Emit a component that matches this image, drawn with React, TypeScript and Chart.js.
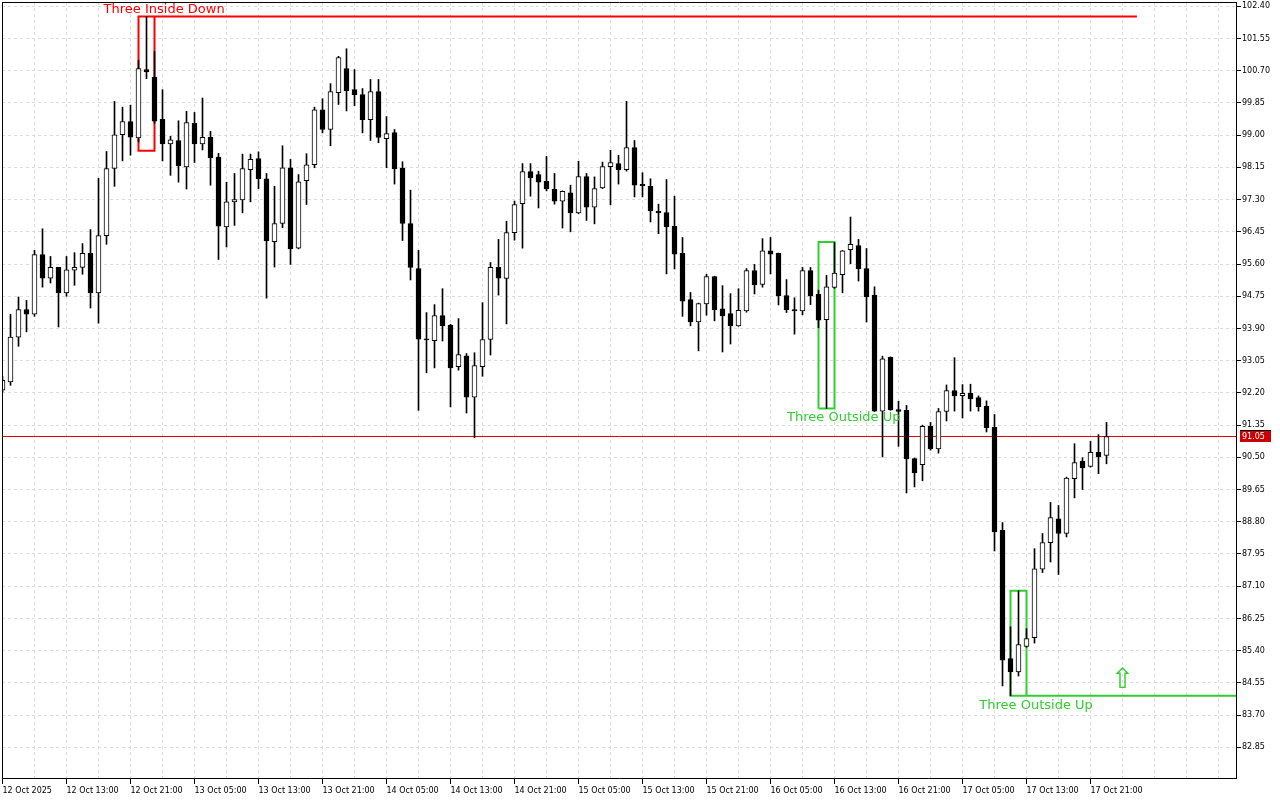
import React, { useEffect, useRef } from 'react';
import { Chart, registerables } from 'chart.js';

Chart.register(...registerables);

// ---- Candle data (hourly bars, 12 Oct 05:00 → 17 Oct 23:00) ----
const opens = [
  92.27, 92.49, 93.67, 94.40, 94.28, 95.85, 95.23, 95.51, 94.84, 95.44,
  95.51, 95.88, 94.84, 96.35, 98.12, 99.01, 99.36, 98.93, 100.73, 100.53,
  99.42, 98.77, 98.86, 98.16, 99.31, 98.77, 98.94, 98.42, 96.58, 97.24,
  97.29, 98.09, 98.38, 97.85, 96.19, 96.67, 98.14, 96.02, 97.80, 98.22,
  99.67, 99.15, 100.12, 100.76, 100.20, 100.07, 99.41, 100.15, 98.91, 99.07,
  98.13, 96.67, 95.48, 93.63, 93.58, 94.24, 93.98, 92.89, 93.18, 92.09,
  92.89, 93.61, 95.51, 95.22, 96.43, 97.19, 98.04, 97.96, 97.78, 97.57,
  97.26, 97.48, 96.95, 97.91, 97.10, 97.61, 98.17, 98.25, 98.09, 98.67,
  97.70, 97.65, 96.99, 96.96, 96.60, 95.88, 94.66, 94.07, 94.55, 95.27,
  94.42, 94.29, 93.97, 94.36, 95.43, 95.06, 95.95, 95.88, 94.77, 94.40,
  94.36, 95.43, 94.80, 94.13, 94.98, 95.32, 95.98, 96.09, 95.48, 94.78,
  91.72, 93.14, 91.76, 91.74, 90.47, 90.31, 91.32, 90.72, 91.71, 92.26,
  92.13, 92.19, 92.08, 91.85, 91.29, 88.58, 85.19, 84.84, 85.51, 85.74,
  87.55, 88.25, 88.88, 88.49, 89.94, 90.40, 90.26, 90.63, 90.55,
];
const highs = [
  92.64, 94.27, 94.73, 94.64, 95.96, 96.53, 95.80, 95.51, 95.80, 95.90,
  96.14, 96.51, 97.86, 98.57, 99.89, 99.74, 99.79, 100.98, 102.13, 101.21,
  100.20, 98.97, 99.38, 99.63, 99.60, 99.98, 99.10, 98.52, 97.76, 97.99,
  98.50, 98.50, 98.56, 97.99, 97.65, 98.72, 98.36, 97.96, 98.51, 99.74,
  99.96, 100.36, 101.08, 101.28, 100.73, 100.23, 100.47, 100.47, 99.49, 99.15,
  98.30, 97.55, 95.96, 94.32, 94.53, 94.95, 94.01, 94.16, 93.24, 93.26,
  94.58, 95.64, 96.25, 96.73, 97.26, 98.25, 98.25, 98.05, 98.44, 97.99,
  97.53, 97.68, 98.31, 97.99, 97.90, 98.29, 98.60, 98.47, 99.89, 98.86,
  98.01, 97.85, 97.18, 97.83, 97.39, 96.30, 94.85, 94.57, 95.33, 95.28,
  95.03, 94.82, 94.95, 95.48, 95.59, 96.27, 96.30, 95.89, 95.19, 94.71,
  95.51, 95.51, 94.91, 95.30, 96.17, 95.96, 96.84, 96.25, 96.01, 95.00,
  93.17, 93.15, 91.98, 91.87, 90.48, 91.35, 91.42, 91.79, 92.41, 93.13,
  92.42, 92.43, 92.12, 91.99, 91.63, 88.78, 86.03, 86.98, 85.98, 88.09,
  88.49, 89.31, 89.23, 89.98, 90.86, 90.49, 90.92, 91.10, 91.42,
];
const lows = [
  92.22, 92.40, 93.43, 93.81, 94.22, 94.99, 95.10, 93.94, 94.75, 95.04,
  95.33, 94.44, 94.04, 96.12, 97.65, 98.32, 98.47, 98.82, 100.49, 99.31,
  98.32, 97.94, 97.76, 97.58, 98.28, 98.61, 97.68, 95.72, 96.05, 96.62,
  96.95, 97.24, 97.59, 94.70, 95.52, 96.56, 95.59, 96.00, 97.17, 98.14,
  99.06, 98.72, 99.81, 99.64, 99.78, 99.06, 98.86, 98.80, 98.14, 97.71,
  96.22, 95.18, 91.74, 92.73, 92.86, 93.57, 91.83, 92.80, 91.67, 91.02,
  92.64, 93.20, 94.78, 94.02, 96.23, 96.02, 97.39, 97.08, 97.53, 97.18,
  96.55, 96.45, 96.93, 96.75, 96.66, 97.59, 97.16, 97.71, 98.05, 97.37,
  97.37, 96.71, 96.40, 95.34, 95.47, 94.22, 93.97, 93.31, 94.25, 94.10,
  93.28, 93.49, 93.96, 94.33, 94.81, 94.99, 95.34, 94.52, 94.32, 93.75,
  94.26, 94.53, 93.92, 91.79, 94.96, 94.84, 95.61, 95.15, 94.07, 91.71,
  90.51, 91.74, 90.79, 89.56, 89.72, 89.88, 90.69, 90.61, 91.46, 91.72,
  91.54, 91.72, 91.72, 91.17, 88.03, 84.47, 84.21, 84.73, 85.49, 85.60,
  87.46, 87.74, 87.41, 88.40, 89.43, 89.65, 90.24, 90.07, 90.33,
];
const closes = [
  92.53, 93.67, 94.40, 94.28, 95.85, 95.23, 95.51, 94.84, 95.45, 95.51,
  95.88, 94.84, 96.35, 98.12, 99.01, 99.36, 98.95, 100.76, 100.67, 99.37,
  98.77, 98.88, 98.19, 99.33, 98.77, 98.94, 98.40, 96.60, 97.24, 97.30,
  98.12, 98.36, 97.85, 96.21, 96.67, 98.14, 96.00, 97.77, 98.22, 99.67,
  99.15, 100.15, 101.05, 100.17, 100.07, 99.41, 100.15, 98.94, 99.04, 98.11,
  96.67, 95.51, 93.62, 93.60, 94.24, 93.97, 92.86, 93.21, 92.09, 92.92,
  93.61, 95.51, 95.23, 96.43, 97.17, 98.04, 97.87, 97.76, 97.58, 97.26,
  97.52, 96.95, 97.91, 97.10, 97.59, 98.17, 98.28, 98.08, 98.67, 97.68,
  97.66, 97.00, 96.95, 96.58, 95.86, 94.62, 94.07, 94.56, 95.27, 94.39,
  94.23, 93.97, 94.38, 95.43, 95.05, 95.95, 95.86, 94.76, 94.39, 94.36,
  95.43, 94.76, 94.12, 95.00, 95.36, 95.95, 96.12, 95.47, 94.73, 91.72,
  93.10, 91.75, 91.71, 90.46, 90.09, 91.32, 90.72, 91.71, 92.26, 92.12,
  92.19, 92.04, 91.83, 91.28, 88.53, 85.15, 84.84, 85.56, 85.72, 87.56,
  88.25, 88.91, 88.49, 89.95, 90.36, 90.22, 90.63, 90.51, 91.05,
];

// ---- Axis ticks ----
const timeLabels = [
  '12 Oct 2025', '12 Oct 13:00', '12 Oct 21:00', '13 Oct 05:00', '13 Oct 13:00',
  '13 Oct 21:00', '14 Oct 05:00', '14 Oct 13:00', '14 Oct 21:00', '15 Oct 05:00',
  '15 Oct 13:00', '15 Oct 21:00', '16 Oct 05:00', '16 Oct 13:00', '16 Oct 21:00',
  '17 Oct 05:00', '17 Oct 13:00', '17 Oct 21:00',
];
const priceTicks = [
  82.85, 83.70, 84.55, 85.40, 86.25, 87.10, 87.95, 88.80, 89.65, 90.50, 91.35, 92.20,
  93.05, 93.90, 94.75, 95.60, 96.45, 97.30, 98.15, 99.00, 99.85, 100.70, 101.55, 102.40,
];
const currentPrice = 91.05;

// ---- Pattern annotations (bar index, price) ----
const insideDownX = [141.8, 17, 17, 19, 19];
const insideDownY = [102.13, 102.13, 98.59, 98.59, 102.13];
const outsideUp1X = [102, 102, 104, 104, 102];
const outsideUp1Y = [91.79, 96.18, 96.18, 91.79, 91.79];
const outsideUp2X = [154.4, 126, 126, 128, 128];
const outsideUp2Y = [84.21, 84.21, 86.98, 86.98, 84.21];
const patternLabels = ['Three Inside Down', 'Three Outside Up', 'Three Outside Up'];
const patternLabelX = [20.2, 105.16, 129.2];
const patternLabelY = [102.21, 91.45, 83.87];
const arrowX = [140];
const arrowY = [84.6];

const RED = '#ff0000';
const GREEN = 'rgb(50,205,50)';
const GRID = '#dcdcdc';
const FONT = 'DejaVu Sans';

const X_MIN = -0.0625;
const X_MAX = 154.3125;
const Y_MIN = 82.0137;
const Y_MAX = 102.5134;

const gridBars = Array.from({ length: 39 }, (_, k) => k * 4);

const overlayPlugin = {
  id: 'overlay',
  afterDatasetsDraw(chart: any) {
    const { ctx, scales } = chart;
    const xs = scales.x;
    const ys = scales.y;
    ctx.save();
    ctx.font = `13px '${FONT}'`;
    ctx.textAlign = 'center';
    ctx.textBaseline = 'alphabetic';
    patternLabels.forEach((t, i) => {
      ctx.fillStyle = i === 0 ? RED : GREEN;
      ctx.fillText(t, xs.getPixelForValue(patternLabelX[i]), ys.getPixelForValue(patternLabelY[i]));
    });
    ctx.font = `28px '${FONT}'`;
    ctx.textBaseline = 'middle';
    ctx.fillStyle = GREEN;
    arrowX.forEach((x, i) => {
      ctx.fillText('\u21E7', xs.getPixelForValue(x), ys.getPixelForValue(arrowY[i]));
    });
    ctx.restore();
  },
  afterDraw(chart: any) {
    const { ctx, chartArea, scales } = chart;
    const { left, right, top, bottom } = chartArea;
    ctx.save();
    ctx.strokeStyle = '#000';
    ctx.lineWidth = 1;
    ctx.beginPath();
    ctx.moveTo(left + 0.5, top);
    ctx.lineTo(left + 0.5, bottom);
    ctx.moveTo(left, top + 0.5);
    ctx.lineTo(right, top + 0.5);
    ctx.moveTo(right - 0.5, top);
    ctx.lineTo(right - 0.5, bottom);
    ctx.moveTo(left, bottom - 0.5);
    ctx.lineTo(right, bottom - 0.5);
    ctx.stroke();
    // current price tag
    const py = Math.round(scales.y.getPixelForValue(currentPrice));
    ctx.fillStyle = '#000';
    ctx.fillRect(right + 3, py - 6, 31, 1);
    ctx.fillStyle = 'rgb(204,0,0)';
    ctx.fillRect(right + 3, py - 5, 31, 11);
    ctx.fillStyle = '#fff';
    ctx.font = `8px '${FONT}'`;
    ctx.textAlign = 'left';
    ctx.textBaseline = 'middle';
    ctx.fillText(currentPrice.toFixed(2), right + 5, py + 0.5);
    ctx.restore();
  },
};

const toPts = (xs: number[], ys: number[]) => xs.map((x, i) => ({ x, y: ys[i] }));

export default function App() {
  const ref = useRef<HTMLCanvasElement>(null);
  useEffect(() => {
    document.body.style.margin = '0';
    const canvas = ref.current;
    if (!canvas) return;
    Chart.defaults.font.family = FONT;
    Chart.defaults.font.size = 8;
    const lineDs = (data: any[], color: string, width: number) => ({
      type: 'line' as const,
      data,
      borderColor: color,
      borderWidth: width,
      pointRadius: 0,
      fill: false,
      tension: 0,
      order: 3,
    });
    const chart = new Chart(canvas, {
      type: 'bar',
      data: {
        datasets: [
          {
            type: 'bar',
            data: closes.map((c, i) => ({ x: i, y: [opens[i], c] })) as any,
            backgroundColor: closes.map((c, i) => (c >= opens[i] ? '#ffffff' : '#000000')),
            borderColor: '#000000',
            borderWidth: 1,
            borderSkipped: false,
            barThickness: 5,
            grouped: false,
            minBarLength: 1,
            order: 0,
          } as any,
          {
            type: 'bar',
            data: lows.map((l, i) => ({ x: i, y: [l, highs[i]] })) as any,
            backgroundColor: '#000000',
            borderWidth: 0,
            barThickness: 1,
            grouped: false,
            order: 1,
          } as any,
          lineDs([{ x: X_MIN, y: currentPrice }, { x: X_MAX, y: currentPrice }], 'rgb(220,0,0)', 1) as any,
          lineDs(toPts(insideDownX, insideDownY), RED, 2) as any,
          lineDs(toPts(outsideUp1X, outsideUp1Y), GREEN, 2) as any,
          lineDs(toPts(outsideUp2X, outsideUp2Y), GREEN, 2) as any,
        ],
      },
      options: {
        animation: false,
        responsive: false,
        devicePixelRatio: 1,
        events: [],
        layout: { padding: { left: 2, top: 2, right: 0, bottom: 0 } },
        plugins: { legend: { display: false }, tooltip: { enabled: false } },
        scales: {
          x: {
            type: 'linear',
            min: X_MIN,
            max: X_MAX,
            offset: false,
            afterFit: (s: any) => {
              s.height = 21;
              s.paddingLeft = 0;
              s.paddingRight = 0;
            },
            afterBuildTicks: (s: any) => {
              s.ticks = gridBars.map((v) => ({ value: v }));
            },
            grid: {
              color: GRID,
              lineWidth: 1,
              offset: false,
              tickLength: 5,
              tickColor: (c: any) =>
                c.tick && c.tick.value % 8 === 0 && c.tick.value / 8 < timeLabels.length ? '#000' : 'rgba(0,0,0,0)',
            },
            border: { display: false, dash: [3, 3] },
            ticks: {
              autoSkip: false,
              maxRotation: 0,
              minRotation: 0,
              align: 'start',
              padding: 2,
              color: '#000',
              font: { family: FONT, size: 8 },
              callback: (v: any) => {
                const n = Number(v);
                return n % 8 === 0 && timeLabels[n / 8] ? timeLabels[n / 8] : '';
              },
            },
          } as any,
          y: {
            type: 'linear',
            position: 'right',
            min: Y_MIN,
            max: Y_MAX,
            afterFit: (s: any) => {
              s.width = 43;
              s.paddingTop = 0;
              s.paddingBottom = 0;
            },
            afterBuildTicks: (s: any) => {
              s.ticks = priceTicks.map((v) => ({ value: v }));
            },
            grid: { color: GRID, lineWidth: 1, tickLength: 4, tickColor: '#000' },
            border: { display: false, dash: [3, 3] },
            ticks: {
              padding: 1,
              color: '#000',
              font: { family: FONT, size: 8 },
              callback: (v: any) => Number(v).toFixed(2),
            },
          } as any,
        },
      },
      plugins: [overlayPlugin],
    });
    return () => chart.destroy();
  }, []);
  return (
    <div style={{ width: 1280, height: 800 }}>
      <canvas ref={ref} width={1280} height={800} style={{ display: 'block' }} />
    </div>
  );
}
